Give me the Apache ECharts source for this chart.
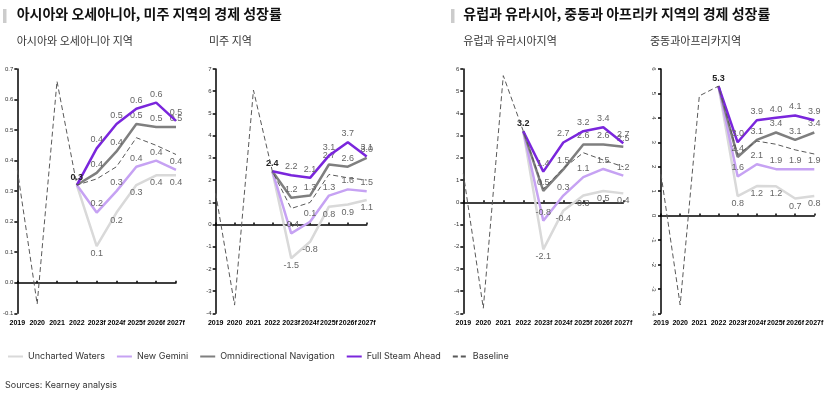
<!DOCTYPE html>
<html>
<head>
<meta charset="utf-8">
<script src="https://cdn.jsdelivr.net/npm/echarts@6/dist/echarts.min.js"></script>
<style>
  html, body { margin: 0; padding: 0; background: #fff; }
  #chart { width: 827px; height: 398px; }
</style>
</head>
<body>
<div id="chart"></div>
<script>
var years = ['2019', '2020', '2021', '2022', '2023f', '2024f', '2025f', '2026f', '2027f'];
var seriesNames = ['Uncharted Waters', 'New Gemini', 'Omnidirectional Navigation', 'Full Steam Ahead', 'Baseline'];

// 아시아와 오세아니아
var asiaUncharted = [null, null, null, 0.32, 0.12, 0.23, 0.32, 0.352, 0.352];
var asiaGemini    = [null, null, null, 0.32, 0.23, 0.30, 0.38, 0.40, 0.37];
var asiaOmni      = [null, null, null, 0.32, 0.36, 0.43, 0.52, 0.51, 0.51];
var asiaFull      = [null, null, null, 0.32, 0.44, 0.52, 0.57, 0.59, 0.53];
var asiaBase      = [0.37, -0.07, 0.66, 0.32, 0.34, 0.38, 0.475, 0.45, 0.42];

// 미주
var amerUncharted = [null, null, null, 2.4, -1.52, -0.78, 0.8, 0.9, 1.1];
var amerGemini    = [null, null, null, 2.4, -0.4, 0.12, 1.3, 1.58, 1.5];
var amerOmni      = [null, null, null, 2.4, 1.2, 1.3, 2.7, 2.6, 3.0];
var amerFull      = [null, null, null, 2.4, 2.22, 2.1, 3.1, 3.7, 3.06];
var amerBase      = [1.4, -3.63, 6.05, 2.4, 0.72, 0.99, 2.25, 2.1, 2.0];

// 유럽과 유라시아
var euroUncharted = [null, null, null, 3.2, -2.12, -0.38, 0.3, 0.51, 0.4];
var euroGemini    = [null, null, null, 3.2, -0.83, 0.3, 1.13, 1.5, 1.2];
var euroOmni      = [null, null, null, 3.2, 0.51, 1.48, 2.6, 2.6, 2.5];
var euroFull      = [null, null, null, 3.2, 1.38, 2.69, 3.2, 3.38, 2.66];
var euroBase      = [1.3, -4.77, 5.7, 3.2, 0.6, 1.53, 2.23, 1.9, 1.6];

// 중동과 아프리카
var meaUncharted = [null, null, null, 5.3, 0.8, 1.21, 1.2, 0.7, 0.8];
var meaGemini    = [null, null, null, 5.3, 1.6, 2.1, 1.9, 1.9, 1.9];
var meaOmni      = [null, null, null, 5.3, 2.4, 3.1, 3.4, 3.1, 3.4];
var meaFull      = [null, null, null, 5.3, 3.0, 3.9, 4.0, 4.1, 3.9];
var meaBase      = [1.69, -3.66, 4.9, 5.3, 2.5, 3.05, 2.92, 2.69, 2.52];

var colors = ['#d9d9d9', '#c6a2f3', '#7f7f7f', '#7a26dc', '#595959'];

var panels = [
  { data: [asiaUncharted, asiaGemini, asiaOmni, asiaFull, asiaBase], min: -0.1, max: 0.7, interval: 0.1, dec: 1, rot: 0,
    left: 16.7, width: 159.3 },
  { data: [amerUncharted, amerGemini, amerOmni, amerFull, amerBase], min: -4, max: 7, interval: 1, dec: 0, rot: 0,
    left: 215.7, width: 151 },
  { data: [euroUncharted, euroGemini, euroOmni, euroFull, euroBase], min: -5, max: 6, interval: 1, dec: 0, rot: 0,
    left: 463.3, width: 160 },
  { data: [meaUncharted, meaGemini, meaOmni, meaFull, meaBase], min: -4, max: 6, interval: 1, dec: 0, rot: -90,
    left: 661, width: 153.3 }
];

var grid = [], xAxis = [], yAxis = [], series = [];

panels.forEach(function (p, i) {
  grid.push({ left: p.left, width: p.width, top: 69, height: 244.3 });
  // labels at the bottom
  xAxis.push({
    type: 'category', gridIndex: i, data: years, boundaryGap: false,
    axisLine: { show: false, onZero: false }, axisTick: { show: false },
    axisLabel: { fontSize: 7, fontWeight: 'bold', color: '#000', margin: 6, interval: 0, fontFamily: 'Arial' }
  });
  // zero line
  xAxis.push({
    type: 'category', gridIndex: i, data: years, boundaryGap: false,
    axisLine: { show: true, onZero: true, lineStyle: { color: '#000', width: 1.5 } },
    axisTick: { show: true, length: 2, interval: 0, lineStyle: { color: '#000', width: 1.5 } },
    axisLabel: { show: false }
  });
  yAxis.push({
    type: 'value', gridIndex: i, min: p.min, max: p.max, interval: p.interval,
    splitLine: { show: false },
    axisLine: { show: true, lineStyle: { color: '#000', width: 1.5 } },
    axisTick: { show: true, length: 3, lineStyle: { color: '#000', width: 1.5 } },
    axisLabel: {
      fontSize: 6, color: '#333', margin: 4, rotate: p.rot, fontFamily: 'Arial',
      formatter: function (v) { return v.toFixed(p.dec); }
    }
  });

  p.data.forEach(function (vals, k) {
    var isBase = k === 4;
    var data = vals.map(function (v, j) {
      if (v === null) return null;
      if (isBase) return v;
      if (j === 3) {
        if (k !== 3) return v;
        return { value: v, label: { show: true, position: 'top', distance: 3, fontWeight: 'bold', color: '#222', fontSize: 9 } };
      }
      return { value: v, label: { show: true } };
    });
    series.push({
      name: seriesNames[k], type: 'line', xAxisIndex: i * 2, yAxisIndex: i,
      data: data, symbol: isBase ? 'none' : 'circle', symbolSize: 0.1, showSymbol: !isBase, showAllSymbol: true,
      z: isBase ? 4 : 2 + k * 0.1,
      color: colors[k],
      lineStyle: isBase ? { color: colors[k], width: 1, type: [5, 3] } : { color: colors[k], width: 2.5 },
      label: {
        show: false, position: k === 0 ? 'bottom' : 'top', distance: k === 0 ? 3 : 4,
        fontSize: 9, color: '#666', fontFamily: 'Arial',
        formatter: function (prm) { return (Math.round(prm.value * 10) / 10).toFixed(1); }
      },
      emphasis: { disabled: true }
    });
  });
});

var chart = echarts.init(document.getElementById('chart'));
chart.setOption({
  animation: false,
  grid: grid,
  xAxis: xAxis,
  yAxis: yAxis,
  series: series,
  legend: {
    data: seriesNames, left: 2, top: 347, itemWidth: 15, itemHeight: 10, itemGap: 11,
    itemStyle: { opacity: 0 },
    textStyle: { fontSize: 9, color: '#333', fontFamily: 'Inter' }
  },
  graphic: [
    { type: 'rect', left: 3, top: 9, shape: { width: 3.5, height: 14 }, style: { fill: '#cccccc' } },
    { type: 'text', left: 16.7, top: 7, style: { text: '아시아와 오세아니아, 미주 지역의 경제 성장률', font: 'bold 14px "Noto Sans CJK KR"', fill: '#111' } },
    { type: 'text', left: 16.7, top: 35, style: { text: '아시아와 오세아니아 지역', font: '11px "Noto Sans CJK KR"', fill: '#333' } },
    { type: 'text', left: 209, top: 35, style: { text: '미주 지역', font: '11px "Noto Sans CJK KR"', fill: '#333' } },
    { type: 'rect', left: 451, top: 9, shape: { width: 3.5, height: 14 }, style: { fill: '#cccccc' } },
    { type: 'text', left: 463.3, top: 7, style: { text: '유럽과 유라시아, 중동과 아프리카 지역의 경제 성장률', font: 'bold 14px "Noto Sans CJK KR"', fill: '#111' } },
    { type: 'text', left: 463.3, top: 35, style: { text: '유럽과 유라시아지역', font: '11px "Noto Sans CJK KR"', fill: '#333' } },
    { type: 'text', left: 650, top: 35, style: { text: '중동과아프리카지역', font: '11px "Noto Sans CJK KR"', fill: '#333' } },
    { type: 'text', left: 5, top: 381, style: { text: 'Sources: Kearney analysis', font: '9px Inter', fill: '#333' } }
  ]
});
</script>
</body>
</html>
